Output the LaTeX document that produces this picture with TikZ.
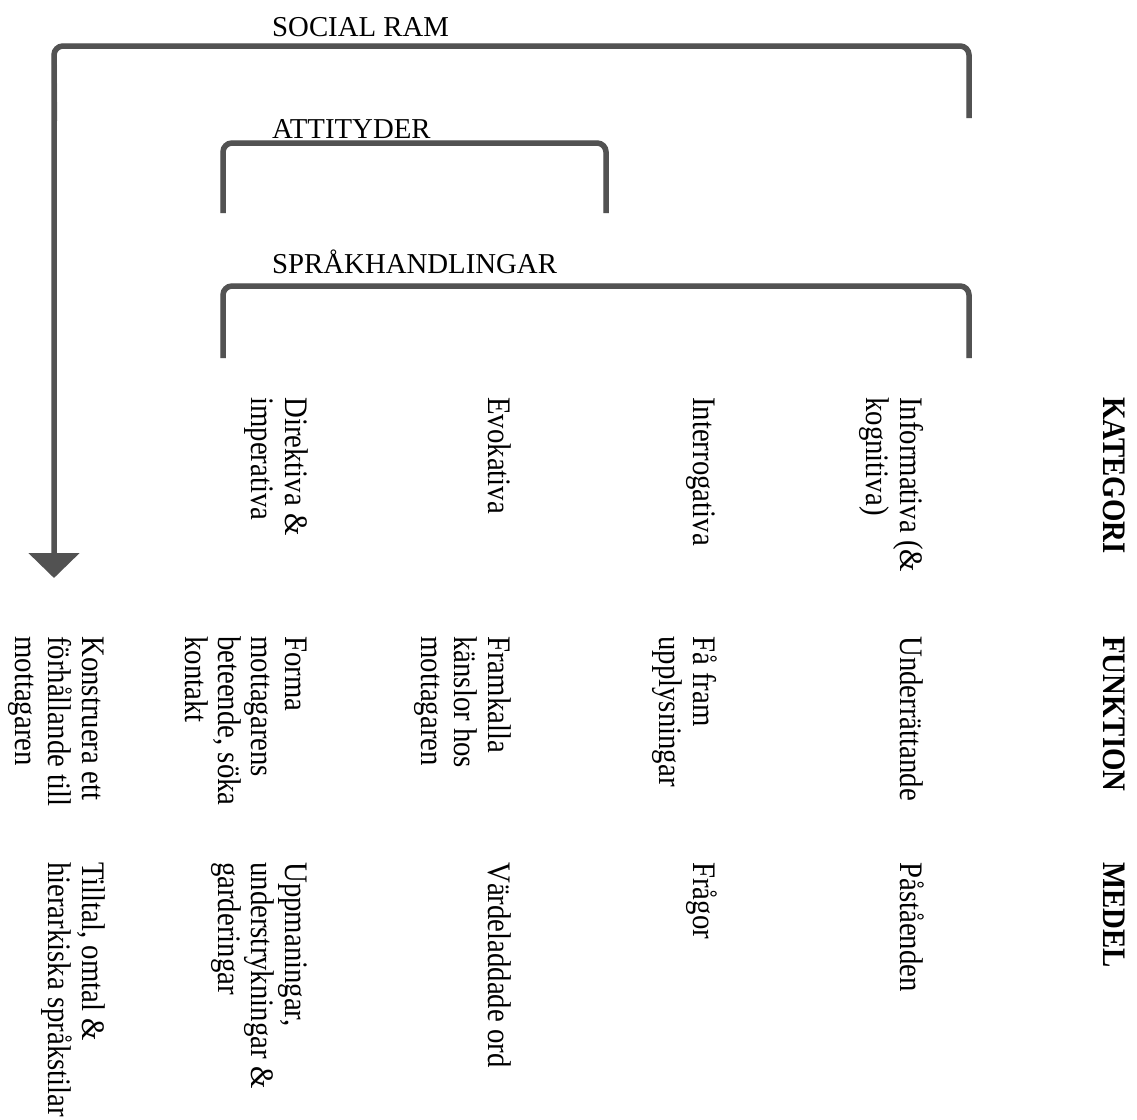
\documentclass[tikz,border=0pt]{standalone}
\usepackage{fontspec}
\setmainfont{Liberation Serif}
\usetikzlibrary{arrows.meta}
\definecolor{brkcol}{HTML}{525252}
\newcommand{\mlines}[1]{\begin{tabular}[t]{@{}l@{}}#1\end{tabular}}
\tikzset{
  rot/.style={rotate=-90, yscale=1.14, anchor=base west, inner sep=0pt,
    font=\fontsize{28.8}{29}\selectfont},
  rothead/.style={rot, font=\fontsize{28.8}{29}\selectfont\bfseries},
  lab/.style={anchor=base west, inner sep=0pt, font=\fontsize{28.8}{33}\selectfont},
  brk/.style={draw=brkcol, line width=5.5pt, rounded corners=9pt},
  shad/.style={draw=black, opacity=0.12, line width=5.5pt, rounded corners=9pt}
}
\begin{document}
\begin{tikzpicture}[x=1pt,y=-1pt]
\useasboundingbox (0,0) rectangle (1137,1119);

% bracket coordinates
\coordinate (sR) at (969,118); \coordinate (sRt) at (969,46);
\coordinate (sLt) at (54,46);  \coordinate (sTip) at (54,578);
\coordinate (aL) at (223,213); \coordinate (aLt) at (223,143);
\coordinate (aRt) at (606,143); \coordinate (aR) at (606,213);
\coordinate (pL) at (223,358); \coordinate (pLt) at (223,286);
\coordinate (pRt) at (969,286); \coordinate (pR) at (969,358);

% shadows
\begin{scope}[shift={(1,3)}]
\draw[shad] (sR) -- (sRt) -- (sLt) -- (54,118);
\draw[shad] (aL) -- (aLt) -- (aRt) -- (aR);
\draw[shad] (pL) -- (pLt) -- (pRt) -- (pR);
\end{scope}

% brackets
\draw[brk, -{Triangle[width=50pt,length=25pt]}] (sR) -- (sRt) -- (sLt) -- (sTip);
\draw[brk] (aL) -- (aLt) -- (aRt) -- (aR);
\draw[brk] (pL) -- (pLt) -- (pRt) -- (pR);

% bracket labels
\node[lab] (lsoc) at (272,36) {SOCIAL RAM};
\node[lab] (latt) at (272,138) {ATTITYDER};
\node[lab] (lspr) at (272,273) {SPRÅKHANDLINGAR};

% headers
\node[rothead] (kat) at (1103,397) {KATEGORI};
\node[rothead] (fun) at (1103,636) {FUNKTION};
\node[rothead] (med) at (1103,862) {MEDEL};

% KATEGORI row
\node[rot] (k1) at (900,397) {\mlines{Informativa (\&\\kognitiva)}};
\node[rot] (k2) at (693,397) {Interrogativa};
\node[rot] (k3) at (488,397) {Evokativa};
\node[rot] (k4) at (285,397) {\mlines{Direktiva \&\\imperativa}};

% FUNKTION row
\node[rot] (f1) at (900,636) {Underrättande};
\node[rot] (f2) at (693,636) {\mlines{Få fram\\upplysningar}};
\node[rot] (f3) at (488,636) {\mlines{Framkalla\\känslor hos\\mottagaren}};
\node[rot] (f4) at (285,636) {\mlines{Forma\\mottagarens\\beteende, söka\\kontakt}};
\node[rot] (f5) at (82,636) {\mlines{Konstruera ett\\förhållande till\\mottagaren}};

% MEDEL row
\node[rot] (m1) at (900,862) {Påståenden};
\node[rot] (m2) at (693,862) {Frågor};
\node[rot] (m3) at (488,862) {Värdeladdade ord};
\node[rot] (m4) at (285,862) {\mlines{Uppmaningar,\\understrykningar \&\\garderingar}};
\node[rot] (m5) at (82,862) {\mlines{Tilltal, omtal \&\\hierarkiska språkstilar}};
\end{tikzpicture}
\end{document}
